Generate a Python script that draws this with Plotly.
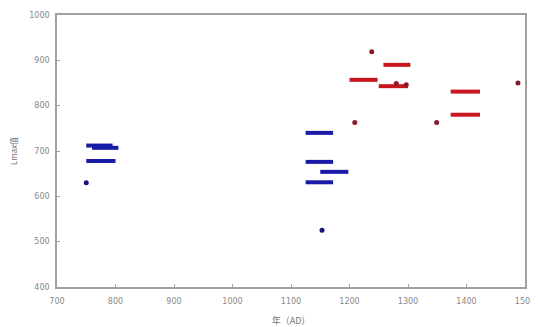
import plotly.graph_objects as go

# Blue group: horizontal range bars (start year, end year, Lmax value)
blue_start = [750, 760, 750, 1125, 1125, 1150, 1125]
blue_end = [795, 805, 800, 1172, 1172, 1198, 1172]
blue_val = [712, 707, 678, 740, 676, 654, 631]
# Blue single points
blue_pt_year = [750, 1153]
blue_pt_val = [630, 525]

# Red group: horizontal range bars
red_start = [1200, 1258, 1250, 1373, 1373]
red_end = [1248, 1304, 1300, 1423, 1423]
red_val = [857, 890, 843, 831, 780]
# Red single points
red_pt_year = [1238, 1280, 1297, 1209, 1349, 1488]
red_pt_val = [919, 849, 846, 763, 763, 850]

x_ticks = [700, 800, 900, 1000, 1100, 1200, 1300, 1400, 1500]
y_ticks = [400, 500, 600, 700, 800, 900, 1000]

BLUE = "#1a1aa8"
RED = "#c8161d"


def segs(starts, ends, vals):
    xs, ys = [], []
    for s, e, v in zip(starts, ends, vals):
        xs += [s, e, None]
        ys += [v, v, None]
    return xs, ys


fig = go.Figure()
bx, by = segs(blue_start, blue_end, blue_val)
rx, ry = segs(red_start, red_end, red_val)
fig.add_trace(go.Scatter(x=bx, y=by, mode="lines", line=dict(color=BLUE, width=4), showlegend=False))
fig.add_trace(go.Scatter(x=rx, y=ry, mode="lines", line=dict(color=RED, width=4), showlegend=False))
fig.add_trace(go.Scatter(x=blue_pt_year, y=blue_pt_val, mode="markers",
                         marker=dict(color="#15157a", size=5), showlegend=False))
fig.add_trace(go.Scatter(x=red_pt_year, y=red_pt_val, mode="markers",
                         marker=dict(color="#8a1a2a", size=5), showlegend=False))

axis_common = dict(showgrid=False, zeroline=False, showline=True, linecolor="#a0a0a0",
                   linewidth=1.5, mirror=True, ticks="inside", ticklen=3, tickcolor="#a0a0a0",
                   automargin=False,
                   tickfont=dict(size=8, color="#888888", family="DejaVu Sans"))
fig.update_xaxes(range=[700, 1500], tickvals=x_ticks, ticklabelstandoff=6, **axis_common,
                 title=dict(text="年（AD）", font=dict(size=9, color="#777777", family="Noto Sans CJK SC"), standoff=12))
fig.update_yaxes(range=[400, 1000], tickvals=y_ticks, ticklabelstandoff=4, **axis_common,
                 title=dict(text="Lmax值", font=dict(size=8, color="#777777", family="Noto Sans CJK SC"), standoff=22))

# page body adds an 8px offset; margins compensate so the plot area lands at x 57-525, y 15-287
fig.update_layout(width=530, height=319, margin=dict(l=49, r=13, t=7, b=40),
                  plot_bgcolor="white", paper_bgcolor="white")
fig.write_html("out.html")
